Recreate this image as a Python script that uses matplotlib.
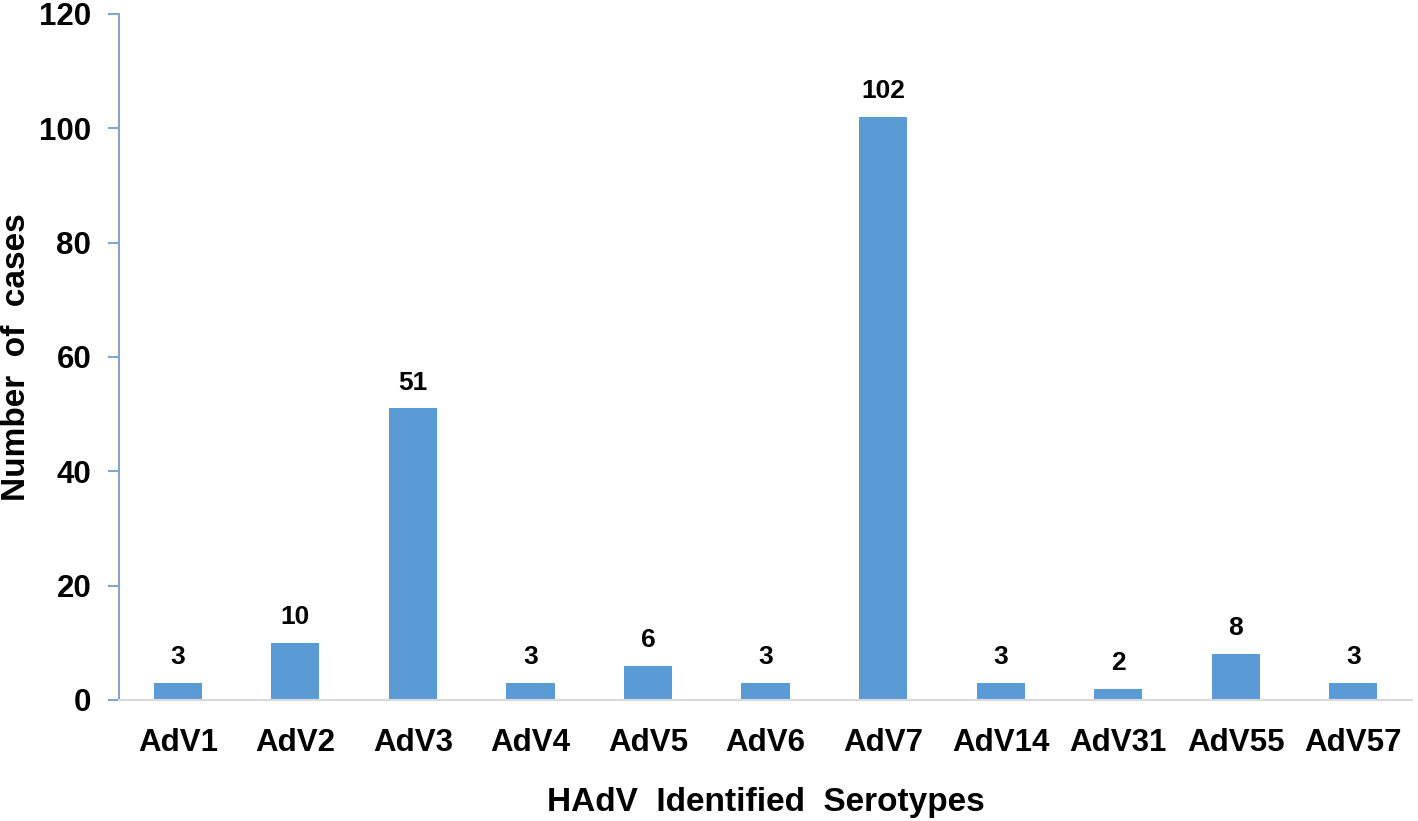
import matplotlib.pyplot as plt

# data
serotypes = ['AdV1', 'AdV2', 'AdV3', 'AdV4', 'AdV5', 'AdV6', 'AdV7',
             'AdV14', 'AdV31', 'AdV55', 'AdV57']
cases = [3, 10, 51, 3, 6, 3, 102, 3, 2, 8, 3]

plt.rcParams['font.family'] = ['Liberation Sans', 'DejaVu Sans']
plt.rcParams['font.weight'] = 'bold'

fig = plt.figure(figsize=(14.18, 8.21), dpi=100)
ax = fig.add_axes([0.0839, 0.1474, 0.9119, 0.8356])

x = range(len(serotypes))
bars = ax.bar(x, cases, width=0.41, color='#5B9BD5')
for b, v in zip(bars, cases):
    ax.annotate(str(v), (b.get_x() + b.get_width() / 2, v), xytext=(0, 10),
                textcoords='offset points', ha='center', va='bottom',
                fontsize=19, fontweight='bold')

ax.set_xlim(-0.5, len(serotypes) - 0.5)
ax.set_ylim(0, 120)
ax.set_yticks(range(0, 121, 20))
ax.set_xticks(list(x))
ax.set_xticklabels(serotypes)

for s in ['top', 'right']:
    ax.spines[s].set_visible(False)
ax.spines['left'].set_color('#7FA7CF')
ax.spines['left'].set_linewidth(1.5)
ax.spines['bottom'].set_color('#D9D9D9')
ax.spines['bottom'].set_linewidth(1.5)
ax.tick_params(axis='y', length=8, width=1.5, color='#7FA7CF', labelsize=22.5, pad=12)
ax.tick_params(axis='x', length=0, labelsize=22.5, pad=20)

ax.set_ylabel('Number  of  cases', fontsize=24, fontweight='bold')
ax.yaxis.set_label_coords(-0.067, 0.5)
ax.set_xlabel('HAdV  Identified  Serotypes', fontsize=24, fontweight='bold', labelpad=21)

fig.savefig('out.png', dpi=100)
